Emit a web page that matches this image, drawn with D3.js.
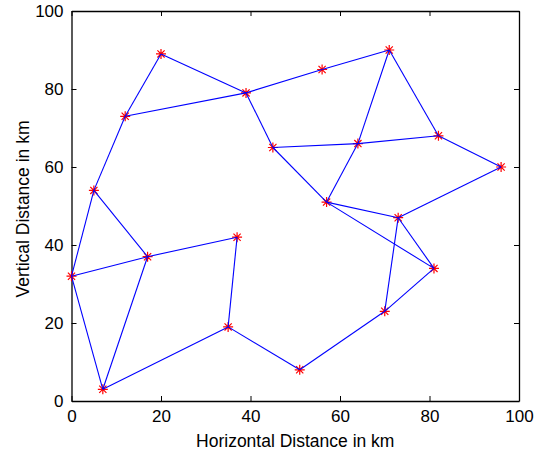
<!DOCTYPE html>
<html>
<head>
<meta charset="utf-8">
<script src="https://cdn.jsdelivr.net/npm/d3@7"></script>
<style>
  body { margin: 0; background: #fff; }
  text { font-family: "Liberation Sans", Arial, sans-serif; fill: #000; }
</style>
</head>
<body>
<svg id="chart"></svg>
<script>
// node positions in km
const nodeX = [0, 7, 5, 12, 20, 17, 37, 35, 39, 45, 51, 56, 57, 64, 71, 73, 70, 81, 82, 96];
const nodeY = [32, 3, 54, 73, 89, 37, 42, 19, 79, 65, 8, 85, 51, 66, 90, 47, 23, 34, 68, 60];

// links between nodes (indices into the node arrays)
const edgeFrom = [0, 2, 3, 4, 3, 8, 11, 8, 9, 13, 14, 14, 18, 13, 9, 12, 12, 15, 15, 15, 17, 16, 10, 7, 6, 5, 2, 5, 0, 1];
const edgeTo   = [2, 3, 4, 8, 8, 11, 14, 9, 13, 18, 13, 18, 19, 12, 12, 15, 17, 19, 17, 16, 16, 10, 7, 6, 5, 0, 5, 1, 1, 7];

const xTicks = [0, 20, 40, 60, 80, 100];
const yTicks = [0, 20, 40, 60, 80, 100];

const W = 541, H = 456;
const margin = {top: 11, right: 22, bottom: 55, left: 71.5};
const width = W - margin.left - margin.right,
      height = H - margin.top - margin.bottom;

const svg = d3.select("#chart").attr("width", W).attr("height", H);
svg.append("rect").attr("width", W).attr("height", H).attr("fill", "#fff");

const g = svg.append("g")
  .attr("transform", "translate(" + margin.left + "," + margin.top + ")");

const x = d3.scaleLinear().domain([0, 100]).range([0, width]);
const y = d3.scaleLinear().domain([0, 100]).range([height, 0]);

// axes, MATLAB style: ticks inward on all four sides
const tickLen = 5;
g.append("g").attr("transform", `translate(0,${height})`)
  .call(d3.axisBottom(x).tickValues(xTicks).tickSizeInner(-tickLen).tickSizeOuter(0).tickPadding(9));
g.append("g")
  .call(d3.axisTop(x).tickValues(xTicks).tickSizeInner(-tickLen).tickSizeOuter(0).tickFormat(""));
g.append("g")
  .call(d3.axisLeft(y).tickValues(yTicks).tickSizeInner(-tickLen).tickSizeOuter(0).tickPadding(8));
g.append("g").attr("transform", `translate(${width},0)`)
  .call(d3.axisRight(y).tickValues(yTicks).tickSizeInner(-tickLen).tickSizeOuter(0).tickFormat(""));

g.selectAll(".domain").attr("stroke", "#000").attr("stroke-width", 1.3);
g.selectAll(".tick line").attr("stroke", "#000");
g.selectAll(".tick text").style("font-size", "17px").style("font-family", "Liberation Sans, Arial, sans-serif");

// star markers (r*)
const r = 5, rd = r * 0.72;
const nodes = nodeX.map((v, i) => ({x: v, y: nodeY[i]}));
g.selectAll(".mark").data(nodes).enter().append("path")
  .attr("class", "mark")
  .attr("transform", d => `translate(${x(d.x)},${y(d.y)})`)
  .attr("d", `M${-r},0H${r}M0,${-r}V${r}M${-rd},${-rd}L${rd},${rd}M${-rd},${rd}L${rd},${-rd}`)
  .style("stroke", "#ff0000")
  .style("stroke-width", 1.2)
  .style("fill", "none");

// links (b-)
const links = edgeFrom.map((f, i) => ({from: f, to: edgeTo[i]}));
g.selectAll(".link").data(links).enter().append("line")
  .attr("class", "link")
  .attr("x1", d => x(nodeX[d.from]))
  .attr("y1", d => y(nodeY[d.from]))
  .attr("x2", d => x(nodeX[d.to]))
  .attr("y2", d => y(nodeY[d.to]))
  .style("stroke", "#0000ff")
  .style("stroke-width", 1.1);

// axis labels
svg.append("text")
  .attr("x", margin.left + width / 2)
  .attr("y", 447)
  .attr("text-anchor", "middle")
  .style("font-size", "17.5px")
  .text("Horizontal Distance in km");

svg.append("text")
  .attr("transform", `translate(29,${margin.top + height / 2 + 3}) rotate(-90)`)
  .attr("text-anchor", "middle")
  .style("font-size", "17.5px")
  .text("Vertical Distance in km");
</script>
</body>
</html>
